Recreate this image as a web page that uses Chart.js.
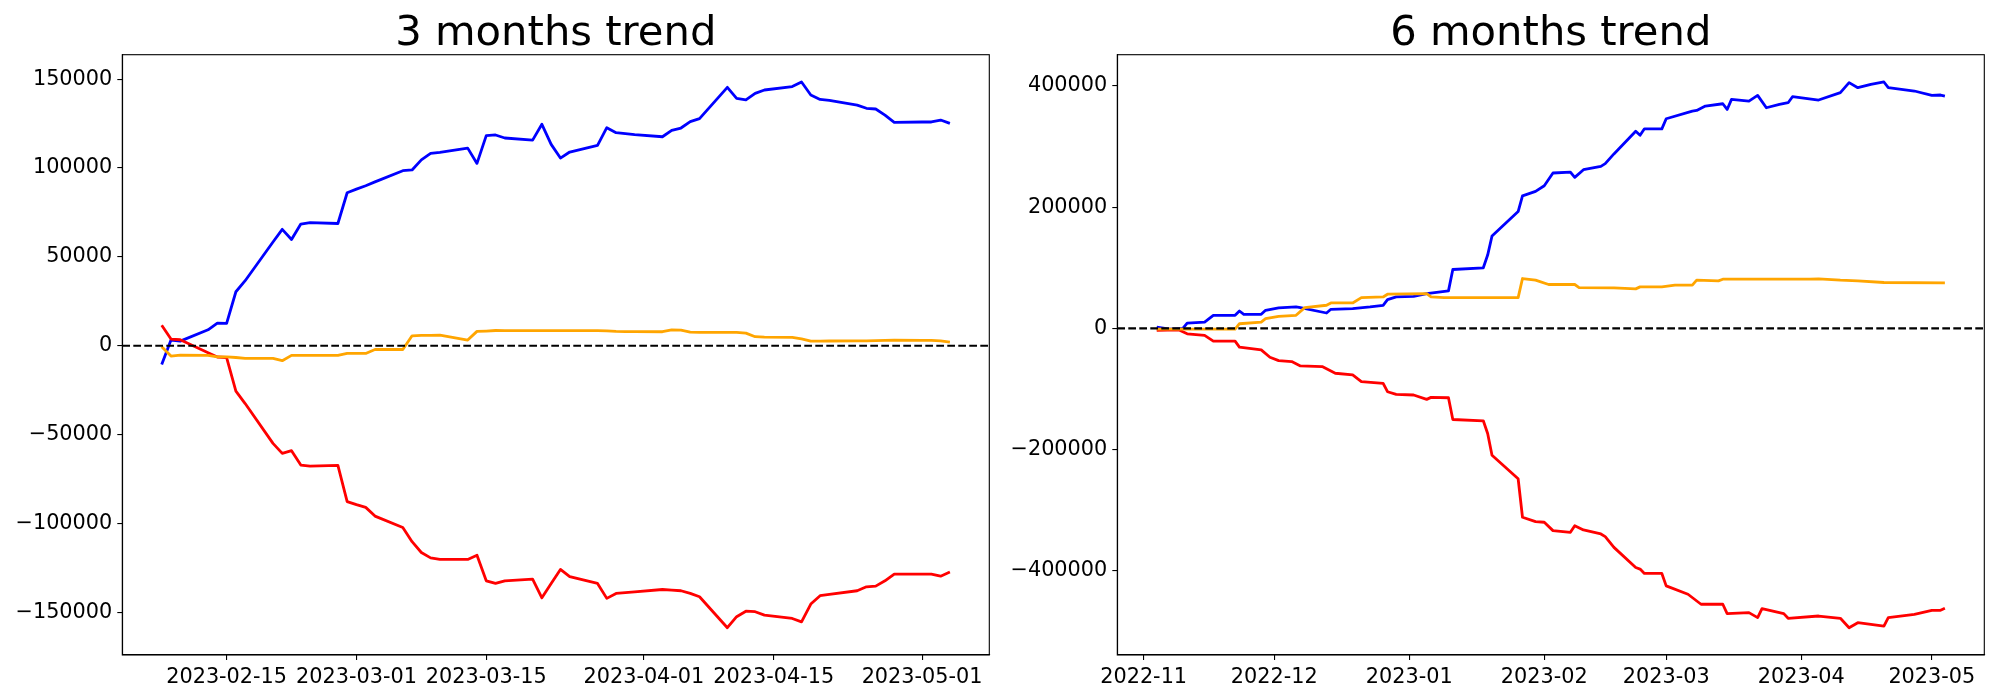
<!DOCTYPE html>
<html>
<head>
<meta charset="utf-8">
<script src="https://cdn.jsdelivr.net/npm/chart.js@4.4.0/dist/chart.umd.min.js"></script>
<style>
  html, body { margin: 0; padding: 0; background: #fff; }
  #wrap { position: relative; width: 2000px; height: 700px; }
  canvas { position: absolute; top: 0; }
  #chart3 { left: 0; }
  #chart6 { left: 1000px; }
</style>
</head>
<body>
<div id="wrap">
  <canvas id="chart3" width="1000" height="700"></canvas>
  <canvas id="chart6" width="1000" height="700"></canvas>
</div>
<script>
// ---- 3 months data ----
const dates3 = ["2023-02-08","2023-02-09","2023-02-10","2023-02-13","2023-02-14","2023-02-15","2023-02-16","2023-02-17","2023-02-20","2023-02-21","2023-02-22","2023-02-23","2023-02-24","2023-02-27","2023-02-28","2023-03-01","2023-03-02","2023-03-03","2023-03-06","2023-03-07","2023-03-08","2023-03-09","2023-03-10","2023-03-13","2023-03-14","2023-03-15","2023-03-16","2023-03-17","2023-03-20","2023-03-21","2023-03-22","2023-03-23","2023-03-24","2023-03-27","2023-03-28","2023-03-29","2023-03-30","2023-03-31","2023-04-03","2023-04-04","2023-04-05","2023-04-06","2023-04-07","2023-04-10","2023-04-11","2023-04-12","2023-04-13","2023-04-14","2023-04-17","2023-04-18","2023-04-19","2023-04-20","2023-04-21","2023-04-24","2023-04-25","2023-04-26","2023-04-27","2023-04-28","2023-05-01","2023-05-02","2023-05-03","2023-05-04"];
const blue3 = [-10500,3200,2600,9000,12800,12600,30400,36600,58400,65500,59800,68500,69300,68800,86100,88100,90000,92200,98500,98900,104600,108200,108800,111200,102600,118200,118600,116900,115700,124600,113300,105600,109000,112700,122700,119900,119400,118800,117600,121200,122500,126100,127800,145400,139200,138300,142000,143900,145800,148400,141100,138600,138100,135400,133600,133200,129800,125700,125900,125900,127000,125100];
const red3 = [11600,3800,3400,-3900,-6300,-6600,-25500,-32500,-54900,-60500,-59000,-67100,-67700,-67300,-87700,-89400,-90900,-95800,-102200,-110200,-116300,-119300,-120200,-120200,-117800,-132200,-133700,-132200,-131300,-141800,-133700,-125800,-129900,-133700,-142100,-139300,-138900,-138400,-137100,-137400,-137800,-139300,-141200,-158600,-152400,-149300,-149600,-151500,-153400,-155300,-145300,-140600,-139900,-137800,-135600,-135200,-132200,-128400,-128400,-128400,-129600,-127300];
const orange3 = [-500,-5800,-5200,-5400,-6200,-6200,-6600,-7100,-7100,-8400,-5400,-5400,-5400,-5400,-4300,-4300,-4300,-2100,-2100,5600,5800,5800,6000,3200,8100,8300,8600,8500,8500,8500,8500,8500,8500,8500,8400,8100,8000,8000,7900,9000,8800,7700,7500,7500,7500,7100,5100,4900,4700,3900,2600,2600,2700,2800,2800,2900,3000,3200,3000,3000,2800,2100];
const xTicks3 = ["2023-02-15","2023-03-01","2023-03-15","2023-04-01","2023-04-15","2023-05-01"];
const yTicks3 = [-150000,-100000,-50000,0,50000,100000,150000];

// ---- 6 months data ----
const blueDates6 = ["2022-11-04","2022-11-07","2022-11-10","2022-11-11","2022-11-15","2022-11-17","2022-11-22","2022-11-23","2022-11-24","2022-11-28","2022-11-29","2022-12-02","2022-12-06","2022-12-07","2022-12-13","2022-12-14","2022-12-19","2022-12-23","2022-12-26","2022-12-27","2022-12-29","2023-01-02","2023-01-05","2023-01-10","2023-01-11","2023-01-18","2023-01-19","2023-01-20","2023-01-26","2023-01-27","2023-01-30","2023-02-01","2023-02-03","2023-02-07","2023-02-08","2023-02-10","2023-02-14","2023-02-15","2023-02-17","2023-02-22","2023-02-23","2023-02-24","2023-02-28","2023-03-01","2023-03-07","2023-03-08","2023-03-10","2023-03-14","2023-03-15","2023-03-16","2023-03-20","2023-03-22","2023-03-24","2023-03-27","2023-03-29","2023-03-30","2023-04-05","2023-04-10","2023-04-12","2023-04-14","2023-04-17","2023-04-20","2023-04-21","2023-04-27","2023-05-01","2023-05-03","2023-05-04"];
const blue6 = [2200,-1100,0,8800,10500,21600,21600,28700,23200,23200,29900,33700,35400,34300,25400,31500,32700,35400,38100,47500,51900,53000,57500,61900,97200,100000,121000,152500,192800,218800,226000,235400,256400,258000,249200,261900,267400,271800,287900,325400,318800,329300,329300,345900,358600,359700,366900,370700,361300,377900,375100,384500,364100,369600,372400,382300,376800,389000,405500,397200,402800,406600,397200,391700,384500,385100,383400];
const redDates6 = ["2022-11-04","2022-11-09","2022-11-11","2022-11-15","2022-11-17","2022-11-22","2022-11-23","2022-11-28","2022-11-30","2022-12-02","2022-12-05","2022-12-07","2022-12-12","2022-12-15","2022-12-19","2022-12-21","2022-12-26","2022-12-27","2022-12-29","2023-01-02","2023-01-05","2023-01-06","2023-01-10","2023-01-11","2023-01-18","2023-01-19","2023-01-20","2023-01-26","2023-01-27","2023-01-30","2023-02-01","2023-02-03","2023-02-07","2023-02-08","2023-02-10","2023-02-14","2023-02-15","2023-02-17","2023-02-22","2023-02-23","2023-02-24","2023-02-28","2023-03-01","2023-03-06","2023-03-09","2023-03-14","2023-03-15","2023-03-20","2023-03-22","2023-03-23","2023-03-28","2023-03-29","2023-04-05","2023-04-10","2023-04-12","2023-04-14","2023-04-20","2023-04-21","2023-04-27","2023-05-01","2023-05-03","2023-05-04"];
const red6 = [-3300,-2200,-8900,-11600,-21000,-21000,-31000,-35400,-47600,-53100,-54700,-61900,-63000,-74000,-76800,-87800,-90600,-104500,-108800,-109900,-117100,-113800,-114400,-150300,-152500,-173500,-209400,-248100,-311600,-318800,-319900,-333700,-336500,-325500,-332600,-339200,-343700,-361300,-394500,-397200,-404400,-404400,-424900,-438700,-455200,-455200,-470700,-469000,-477300,-462400,-470700,-478400,-474600,-478400,-493900,-485600,-491200,-477300,-471800,-465200,-465200,-461900];
const orangeDates6 = ["2022-11-04","2022-11-09","2022-11-22","2022-11-23","2022-11-28","2022-11-29","2022-12-02","2022-12-06","2022-12-08","2022-12-13","2022-12-14","2022-12-19","2022-12-21","2022-12-26","2022-12-27","2023-01-05","2023-01-06","2023-01-09","2023-01-26","2023-01-27","2023-01-30","2023-02-02","2023-02-08","2023-02-09","2023-02-17","2023-02-22","2023-02-23","2023-02-28","2023-03-03","2023-03-07","2023-03-08","2023-03-13","2023-03-14","2023-04-03","2023-04-05","2023-04-10","2023-04-14","2023-04-20","2023-05-04"];
const orange6 = [-1100,-1100,-1100,7700,10500,16000,19900,21600,34300,38200,42000,42000,50800,51900,56400,57500,51900,50800,50800,82300,79600,72400,72400,67400,66900,65200,68500,68500,71300,71300,79600,78500,81200,81200,81800,79600,78500,75700,75100];
const xTicks6 = ["2022-11","2022-12","2023-01","2023-02","2023-03","2023-04","2023-05"];
const yTicks6 = [-400000,-200000,0,200000,400000];

const DAY = 86400000;
function toDay(s) {
    const p = s.split("-");
    return Date.UTC(+p[0], +p[1] - 1, p.length > 2 ? +p[2] : 1) / DAY;
}
function fmtNum(v) {
    return v < 0 ? "\u2212" + Math.abs(v) : String(v);
}

const tickFont = { family: "DejaVu Sans", size: 20.8 };

// black frame round the plot area and dashed zero line
const framePlugin = {
    id: "frame",
    afterDatasetsDraw(chart) {
        const ctx = chart.ctx, a = chart.chartArea;
        const y0 = chart.scales.y.getPixelForValue(0);
        ctx.save();
        ctx.strokeStyle = "#000";
        ctx.lineWidth = 2.1;
        ctx.setLineDash([7.7, 3.3]);
        ctx.beginPath();
        ctx.moveTo(a.left, y0);
        ctx.lineTo(a.right, y0);
        ctx.stroke();
        ctx.setLineDash([]);
        ctx.lineWidth = 1.1;
        ctx.strokeRect(a.left, a.top, a.right - a.left, a.bottom - a.top);
        ctx.restore();
    }
};

function makeChart(id, title, series, xTickLabels, yTicks, leftW, rightPad) {
    const allX = [], allY = [];
    const datasets = series.map(function (s, i) {
        const pts = s.dates.map(function (d, j) {
            allX.push(toDay(d));
            allY.push(s.values[j]);
            return { x: toDay(d), y: s.values[j] };
        });
        return {
            data: pts,
            borderColor: s.color,
            borderWidth: 2.8,
            borderJoinStyle: "round",
            pointRadius: 0,
            tension: 0,
            fill: false,
            order: series.length - i
        };
    });
    const xMin = Math.min(...allX), xMax = Math.max(...allX);
    const yMin = Math.min(...allY), yMax = Math.max(...allY);
    const xm = (xMax - xMin) * 0.05, ym = (yMax - yMin) * 0.05;
    const xTickVals = xTickLabels.map(toDay);

    return new Chart(document.getElementById(id).getContext("2d"), {
        type: "line",
        data: { datasets: datasets },
        options: {
            responsive: false,
            animation: false,
            devicePixelRatio: 1,
            layout: { autoPadding: false, padding: { left: 0, right: rightPad, top: 0, bottom: 0 } },
            plugins: {
                legend: { display: false },
                tooltip: { enabled: false },
                title: {
                    display: true,
                    text: title,
                    fullSize: false,
                    color: "#000",
                    font: { family: "DejaVu Sans", size: 41.7, weight: "normal", lineHeight: 1 },
                    padding: { top: 13, bottom: 0 }
                }
            },
            scales: {
                x: {
                    type: "linear",
                    min: xMin - xm,
                    max: xMax + xm,
                    afterBuildTicks: function (sc) { sc.ticks = xTickVals.map(v => ({ value: v })); },
                    afterFit: function (sc) { sc.height = 45; sc.paddingLeft = 0; sc.paddingRight = 0; },
                    ticks: {
                        autoSkip: false, maxRotation: 0, padding: 5, color: "#000", font: tickFont,
                        callback: function (v) { const k = xTickVals.indexOf(v); return k >= 0 ? xTickLabels[k] : ""; }
                    },
                    grid: { display: true, drawOnChartArea: false, drawTicks: true, tickLength: 5, color: "#000", lineWidth: 1.1 },
                    border: { display: true, color: "#000", width: 1.1 }
                },
                y: {
                    type: "linear",
                    min: yMin - ym,
                    max: yMax + ym,
                    afterBuildTicks: function (sc) { sc.ticks = yTicks.map(v => ({ value: v })); },
                    afterFit: function (sc) { sc.width = leftW; sc.paddingTop = 0; sc.paddingBottom = 0; },
                    ticks: { padding: 5, color: "#000", font: tickFont, callback: fmtNum },
                    grid: { display: true, drawOnChartArea: false, drawTicks: true, tickLength: 5, color: "#000", lineWidth: 1.1 },
                    border: { display: true, color: "#000", width: 1.1 }
                }
            }
        },
        plugins: [framePlugin]
    });
}

makeChart("chart3", "3 months trend", [
    { dates: dates3, values: blue3, color: "#0000ff" },
    { dates: dates3, values: red3, color: "#ff0000" },
    { dates: dates3, values: orange3, color: "#ffa500" }
], xTicks3, yTicks3, 122.3, 10.7);

makeChart("chart6", "6 months trend", [
    { dates: blueDates6, values: blue6, color: "#0000ff" },
    { dates: redDates6, values: red6, color: "#ff0000" },
    { dates: orangeDates6, values: orange6, color: "#ffa500" }
], xTicks6, yTicks6, 117.3, 15.7);
</script>
</body>
</html>
